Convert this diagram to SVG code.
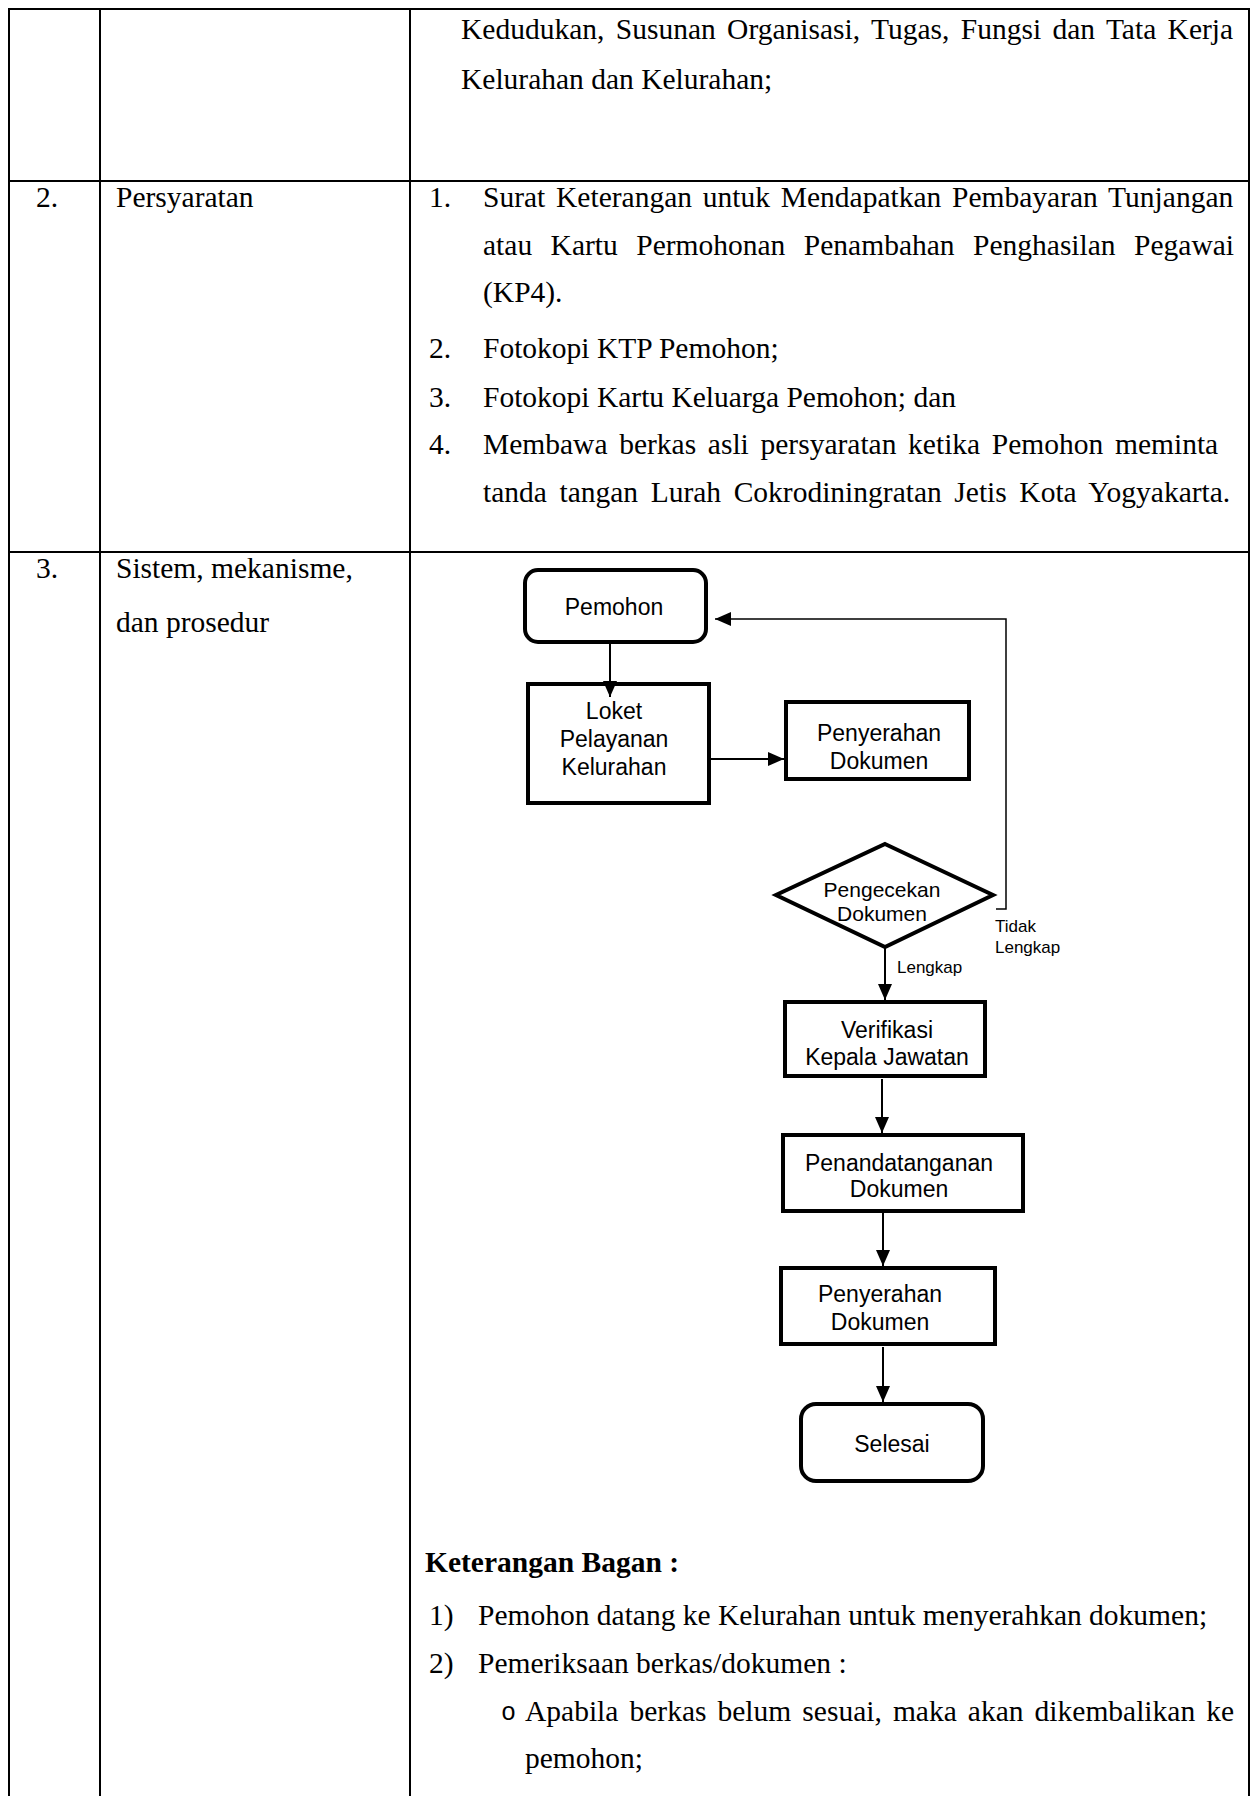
<svg xmlns="http://www.w3.org/2000/svg" width="1256" height="1796" viewBox="0 0 1256 1796">
  <style>
    .grid { stroke: #000; stroke-width: 2; fill: none; }
    .body { font-family: "Liberation Serif", "Times New Roman", serif; font-size: 29.5px; fill: #000; }
    .bold { font-weight: bold; }
    .bullet { font-family: "Liberation Mono", "Courier New", monospace; font-size: 25px; }
    .node { fill: #fff; stroke: #000; stroke-width: 4; }
    .lbl { font-family: "Liberation Sans", Arial, sans-serif; font-size: 23px; fill: #000; text-anchor: middle; }
    .lbl-s { font-family: "Liberation Sans", Arial, sans-serif; font-size: 21px; fill: #000; text-anchor: middle; }
    .note { font-family: "Liberation Sans", Arial, sans-serif; font-size: 17px; fill: #000; }
    .conn { stroke: #000; stroke-width: 2; fill: none; }
    .conn-thin { stroke: #000; stroke-width: 1.5; fill: none; }
  </style>
  <defs>
    <marker id="arrow" markerUnits="userSpaceOnUse" markerWidth="16" markerHeight="14" refX="16" refY="7" orient="auto">
      <path d="M0,0 L16,7 L0,14 Z" fill="#000"/>
    </marker>
  </defs>

  <rect width="1256" height="1796" fill="#fff"/>

  <!-- table grid -->
  <g id="table">
    <line class="grid" x1="9" y1="9" x2="1249" y2="9"/>
    <line class="grid" x1="9" y1="181" x2="1249" y2="181"/>
    <line class="grid" x1="9" y1="552" x2="1249" y2="552"/>
    <line class="grid" x1="9" y1="8" x2="9" y2="1796"/>
    <line class="grid" x1="100" y1="8" x2="100" y2="1796"/>
    <line class="grid" x1="410" y1="8" x2="410" y2="1796"/>
    <line class="grid" x1="1249" y1="8" x2="1249" y2="1796"/>
  </g>

  <!-- row 1 (continued) -->
  <g id="row1-text" class="body">
    <text x="461" y="39" word-spacing="4">Kedudukan, Susunan Organisasi, Tugas, Fungsi dan Tata Kerja</text>
    <text x="461" y="89">Kelurahan dan Kelurahan;</text>
  </g>

  <!-- row 2: requirements -->
  <g id="row2-text" class="body">
    <text x="36" y="207">2.</text>
    <text x="116" y="207">Persyaratan</text>
    <text x="429" y="207">1.</text>
    <text x="483" y="207" word-spacing="3.4">Surat Keterangan untuk Mendapatkan Pembayaran Tunjangan</text>
    <text x="483" y="255" word-spacing="11.1">atau Kartu Permohonan Penambahan Penghasilan Pegawai</text>
    <text x="483" y="302">(KP4).</text>
    <text x="429" y="358">2.</text>
    <text x="483" y="358">Fotokopi KTP Pemohon;</text>
    <text x="429" y="407">3.</text>
    <text x="483" y="407">Fotokopi Kartu Keluarga Pemohon; dan</text>
    <text x="429" y="454">4.</text>
    <text x="483" y="454" word-spacing="4.3">Membawa berkas asli persyaratan ketika Pemohon meminta</text>
    <text x="483" y="502" word-spacing="5.2">tanda tangan Lurah Cokrodiningratan Jetis Kota Yogyakarta.</text>
  </g>

  <!-- row 3: procedure -->
  <g id="row3-text" class="body">
    <text x="36" y="578">3.</text>
    <text x="116" y="578">Sistem, mekanisme,</text>
    <text x="116" y="632">dan prosedur</text>
  </g>

  <!-- flowchart nodes -->
  <g id="node-pemohon">
    <rect class="node" x="525" y="570" width="181" height="72" rx="13"/>
    <text class="lbl" x="614" y="615">Pemohon</text>
  </g>
  <g id="node-loket">
    <rect class="node" x="528" y="684" width="181" height="119"/>
    <text class="lbl" x="614" y="719">Loket</text>
    <text class="lbl" x="614" y="747">Pelayanan</text>
    <text class="lbl" x="614" y="775">Kelurahan</text>
  </g>
  <g id="node-penyerahan-awal">
    <rect class="node" x="786" y="702" width="183" height="77"/>
    <text class="lbl" x="879" y="741">Penyerahan</text>
    <text class="lbl" x="879" y="769">Dokumen</text>
  </g>
  <g id="node-pengecekan">
    <polygon class="node" points="885,844 993,895 885,947 776,895"/>
    <text class="lbl-s" x="882" y="897">Pengecekan</text>
    <text class="lbl-s" x="882" y="921">Dokumen</text>
  </g>
  <g id="label-tidak-lengkap" class="note">
    <text x="995" y="932">Tidak</text>
    <text x="995" y="953">Lengkap</text>
  </g>
  <g id="label-lengkap" class="note">
    <text x="897" y="973">Lengkap</text>
  </g>
  <g id="node-verifikasi">
    <rect class="node" x="785" y="1002" width="200" height="74"/>
    <text class="lbl" x="887" y="1038">Verifikasi</text>
    <text class="lbl" x="887" y="1065">Kepala Jawatan</text>
  </g>
  <g id="node-penandatanganan">
    <rect class="node" x="783" y="1135" width="240" height="76"/>
    <text class="lbl" x="899" y="1171">Penandatanganan</text>
    <text class="lbl" x="899" y="1197">Dokumen</text>
  </g>
  <g id="node-penyerahan-akhir">
    <rect class="node" x="781" y="1268" width="214" height="76"/>
    <text class="lbl" x="880" y="1302">Penyerahan</text>
    <text class="lbl" x="880" y="1330">Dokumen</text>
  </g>
  <g id="node-selesai">
    <rect class="node" x="801" y="1404" width="182" height="77" rx="15"/>
    <text class="lbl" x="892" y="1452">Selesai</text>
  </g>

  <!-- flowchart connectors (drawn over the box borders) -->
  <g id="connectors">
    <line class="conn" x1="610" y1="644" x2="610" y2="697" marker-end="url(#arrow)"/>
    <line class="conn" x1="711" y1="759" x2="784" y2="759" marker-end="url(#arrow)"/>
    <polyline class="conn-thin" points="996,909 1006,909 1006,619 715,619" marker-end="url(#arrow)"/>
    <line class="conn" x1="885" y1="948" x2="885" y2="1000" marker-end="url(#arrow)"/>
    <line class="conn" x1="882" y1="1079" x2="882" y2="1133" marker-end="url(#arrow)"/>
    <line class="conn" x1="883" y1="1213" x2="883" y2="1266" marker-end="url(#arrow)"/>
    <line class="conn" x1="883" y1="1347" x2="883" y2="1402" marker-end="url(#arrow)"/>
  </g>

  <!-- chart legend -->
  <g id="legend" class="body">
    <text class="bold" x="425" y="1572">Keterangan Bagan :</text>
    <text x="429" y="1625">1)</text>
    <text x="478" y="1625">Pemohon datang ke Kelurahan untuk menyerahkan dokumen;</text>
    <text x="429" y="1673">2)</text>
    <text x="478" y="1673">Pemeriksaan berkas/dokumen :</text>
    <text class="bullet" x="501" y="1720">o</text>
    <text x="525" y="1721" word-spacing="3.7">Apabila berkas belum sesuai, maka akan dikembalikan ke</text>
    <text x="525" y="1768">pemohon;</text>
  </g>
</svg>
